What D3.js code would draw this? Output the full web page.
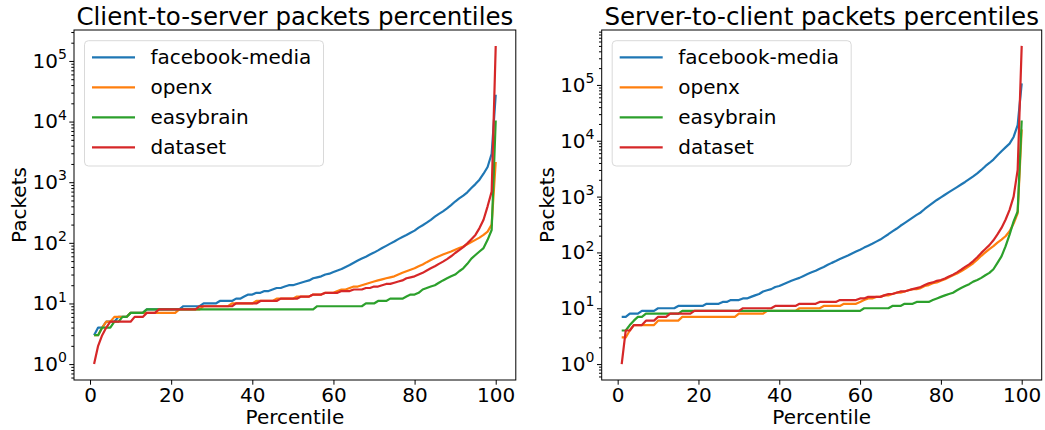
<!DOCTYPE html>
<html>
<head>
<meta charset="utf-8">
<script src="https://cdn.jsdelivr.net/npm/d3@7"></script>
<style>
  body { margin: 0; background: #fff; }
  svg { font-family: "DejaVu Sans", sans-serif; }
</style>
</head>
<body>
<svg id="chart" width="1045" height="430"></svg>
<script>
// percentiles 1..100
const percentiles = d3.range(1, 101);
const seriesNames = ["facebook-media", "openx", "easybrain", "dataset"];
const colors = ["#1f77b4", "#ff7f0e", "#2ca02c", "#d62728"];
const xTicks = [0, 20, 40, 60, 80, 100];

// client-to-server
const c2sFacebook = [
  3,4,4,5,5,5,6,6,6,7,
  7,7,7,8,8,8,8,8,8,8,
  8,8,9,9,9,9,9,10,10,10,
  10,11,11,11,11,12,12,13,14,14,
  15,15,16,16,17,18,18,19,20,20,
  21,22,23,24,26,27,28,30,31,33,
  35,37,40,43,47,51,55,59,64,69,
  75,82,89,97,105,115,125,135,147,159,
  178,195,215,240,270,300,330,370,420,480,
  540,600,680,800,930,1100,1380,1780,2950,27700];
const c2sOpenx = [
  3,3,4,5,5,6,6,6,6,7,
  7,7,7,7,7,7,7,7,7,7,
  7,8,8,8,8,8,8,9,9,9,
  9,9,9,9,10,10,10,10,10,10,
  11,11,11,11,11,12,12,12,12,12,
  13,13,13,13,14,14,14,15,15,15,
  16,17,17,18,19,19,20,21,22,23,
  24,25,26,27,28,30,32,34,36,38,
  41,44,48,52,56,60,64,68,72,77,
  82,87,95,103,112,122,135,153,200,2150];
const c2sEasybrain = [
  3,3,4,4,4,5,5,6,6,7,
  7,7,7,8,8,8,8,8,8,8,
  8,8,8,8,8,8,8,8,8,8,
  8,8,8,8,8,8,8,8,8,8,
  8,8,8,8,8,8,8,8,8,8,
  8,8,8,8,8,9,9,9,9,9,
  9,9,9,9,9,9,9,10,10,10,
  11,11,11,12,12,12,12,13,14,14,
  15,17,18,19,20,22,24,26,28,30,
  34,38,45,55,63,72,82,112,163,10400];
const c2sDataset = [
  1,2,3,4,5,5,5,5,5,5,
  6,6,6,7,7,7,8,8,8,8,
  8,8,8,8,8,8,9,9,9,9,
  9,9,9,9,9,10,10,10,10,10,
  10,11,11,11,11,11,12,12,12,12,
  12,13,13,13,14,14,14,15,15,15,
  15,16,16,16,17,17,17,18,18,19,
  19,20,21,21,22,23,24,26,27,28,
  30,32,35,38,41,45,49,54,60,68,
  76,85,98,115,135,175,240,400,700,177000];

// server-to-client
const s2cFacebook = [
  7,7,8,8,8,9,9,9,9,10,
  10,10,10,10,11,11,11,11,11,11,
  11,12,12,12,12,13,13,14,14,14,
  15,15,16,17,18,20,21,22,24,25,
  27,29,31,33,35,38,41,44,47,51,
  55,60,65,70,76,82,88,96,104,112,
  122,132,143,156,170,190,212,238,265,300,
  335,375,420,470,520,600,680,770,870,970,
  1080,1200,1330,1480,1650,1830,2050,2300,2600,3000,
  3500,4000,4600,5500,6500,7600,8900,11700,19000,107000];
const s2cOpenx = [
  3,3,4,5,5,5,5,5,5,6,
  6,6,6,6,6,7,7,7,7,7,
  7,7,7,7,7,7,7,7,7,8,
  8,8,8,8,8,8,9,9,9,9,
  9,9,9,9,10,10,10,10,10,10,
  11,11,11,11,11,12,12,12,12,13,
  14,15,15,16,16,17,17,18,19,19,
  20,21,22,22,23,25,26,28,29,31,
  33,36,39,42,46,51,57,64,74,87,
  100,115,130,150,170,195,240,330,500,16000];
const s2cEasybrain = [
  4,4,5,6,7,7,8,8,8,8,
  8,8,8,8,8,9,9,9,9,9,
  9,9,9,9,9,9,9,9,9,9,
  9,9,9,9,9,9,9,9,9,9,
  9,9,9,9,9,9,9,9,9,9,
  9,9,9,9,9,9,9,9,9,9,
  10,10,10,10,10,10,10,11,11,11,
  12,12,12,13,13,13,13,14,15,16,
  17,18,19,21,23,25,27,30,32,35,
  39,43,50,65,85,128,208,360,540,23000];
const s2cDataset = [
  1,4,4,5,5,5,6,6,6,7,
  7,7,8,8,8,8,8,8,9,9,
  9,9,9,9,9,9,9,9,9,9,
  10,10,10,10,10,10,10,10,11,11,
  11,11,11,11,12,12,12,12,12,13,
  13,13,13,13,14,14,14,14,14,15,
  15,16,16,16,16,17,18,18,19,20,
  20,21,22,23,24,26,28,29,31,32,
  34,37,40,44,49,55,61,70,82,98,
  115,135,165,210,275,385,580,1000,3000,500000];

const panels = [
  { title: "Client-to-server packets percentiles", left: 74, right: 515.8,
    series: [c2sFacebook, c2sOpenx, c2sEasybrain, c2sDataset] },
  { title: "Server-to-client packets percentiles", left: 601.7, right: 1041.7,
    series: [s2cFacebook, s2cOpenx, s2cEasybrain, s2cDataset] }
];

const plotTop = 30, plotBottom = 380;
const svg = d3.select("#chart");

panels.forEach(p => {
  const g = svg.append("g");

  // x scale with 5% margins like matplotlib
  const xm = (100 - 1) * 0.05;
  const x = d3.scaleLinear().domain([1 - xm, 100 + xm]).range([p.left, p.right]);

  const hi = Math.log10(d3.max(p.series.flat()));
  const ym = hi * 0.05;
  const y = d3.scaleLog().domain([Math.pow(10, -ym), Math.pow(10, hi + ym)]).range([plotBottom, plotTop]);

  // minor ticks on log axis
  const minors = [];
  for (let k = -1; k <= 6; k++) {
    for (let m = 2; m <= 9; m++) {
      const v = m * Math.pow(10, k);
      if (v >= y.domain()[0] && v <= y.domain()[1]) minors.push(v);
    }
  }
  const majors = [1, 10, 100, 1000, 10000, 100000, 1000000].filter(v => v >= y.domain()[0] && v <= y.domain()[1]);

  g.append("g")
    .attr("transform", "translate(" + p.left + ",0)")
    .call(d3.axisLeft(y).tickValues(minors).tickSize(2.7).tickSizeOuter(0).tickFormat(""))
    .call(a => a.select(".domain").remove());

  const yAxis = g.append("g")
    .attr("transform", "translate(" + p.left + ",0)")
    .call(d3.axisLeft(y).tickValues(majors).tickSize(4.7).tickSizeOuter(0).tickPadding(2.5).tickFormat(""))
    .call(a => a.select(".domain").remove());
  yAxis.selectAll(".tick text").each(function (d) {
    const t = d3.select(this)
      .attr("font-size", 20)
      .attr("fill", "#000")
      .attr("font-family", "DejaVu Sans");
    t.append("tspan").text("10");
    t.append("tspan").text(Math.round(Math.log10(d)))
      .attr("font-size", 14)
      .attr("dy", "-0.62em");
  });
  yAxis.selectAll(".tick line").attr("stroke", "#000");

  const xAxis = g.append("g")
    .attr("transform", "translate(0," + plotBottom + ")")
    .call(d3.axisBottom(x).tickValues(xTicks).tickSize(4.7).tickSizeOuter(0).tickPadding(2.8))
    .call(a => a.select(".domain").remove());
  xAxis.selectAll(".tick text")
    .attr("font-size", 20)
    .attr("fill", "#000")
    .attr("font-family", "DejaVu Sans");

  // lines
  const line = d3.line()
    .x((d, i) => x(percentiles[i]))
    .y(d => y(d));

  p.series.forEach((s, i) => {
    g.append("path")
      .datum(s)
      .attr("fill", "none")
      .attr("stroke", colors[i])
      .attr("stroke-width", 2.2)
      .attr("stroke-linejoin", "round")
      .attr("d", line);
  });

  // frame
  g.append("rect")
    .attr("x", p.left)
    .attr("y", plotTop)
    .attr("width", p.right - p.left)
    .attr("height", plotBottom - plotTop)
    .attr("fill", "none")
    .attr("stroke", "#000")
    .attr("stroke-width", 1);

  // title and labels
  g.append("text")
    .attr("x", (p.left + p.right) / 2)
    .attr("y", 25)
    .attr("text-anchor", "middle")
    .attr("font-size", 24.5)
    .text(p.title);

  g.append("text")
    .attr("x", (p.left + p.right) / 2)
    .attr("y", 424)
    .attr("text-anchor", "middle")
    .attr("font-size", 20)
    .text("Percentile");

  g.append("text")
    .attr("transform", "translate(" + (p.left - 48) + "," + ((plotTop + plotBottom) / 2) + ") rotate(-90)")
    .attr("text-anchor", "middle")
    .attr("font-size", 20)
    .text("Packets");

  // legend
  const lg = g.append("g").attr("transform", "translate(" + (p.left + 10.5) + ",40.7)");
  lg.append("rect")
    .attr("width", 239)
    .attr("height", 125.3)
    .attr("rx", 4)
    .attr("fill", "#fff")
    .attr("fill-opacity", 0.8)
    .attr("stroke", "#d9d9d9")
    .attr("stroke-width", 1);
  seriesNames.forEach((name, i) => {
    const yy = 16.6 + i * 30;
    lg.append("line")
      .attr("x1", 7.5).attr("x2", 50.5)
      .attr("y1", yy).attr("y2", yy)
      .attr("stroke", colors[i])
      .attr("stroke-width", 2.2);
    lg.append("text")
      .attr("x", 66)
      .attr("y", yy)
      .attr("dy", "0.35em")
      .attr("font-size", 20)
      .text(name);
  });
});
</script>
</body>
</html>
